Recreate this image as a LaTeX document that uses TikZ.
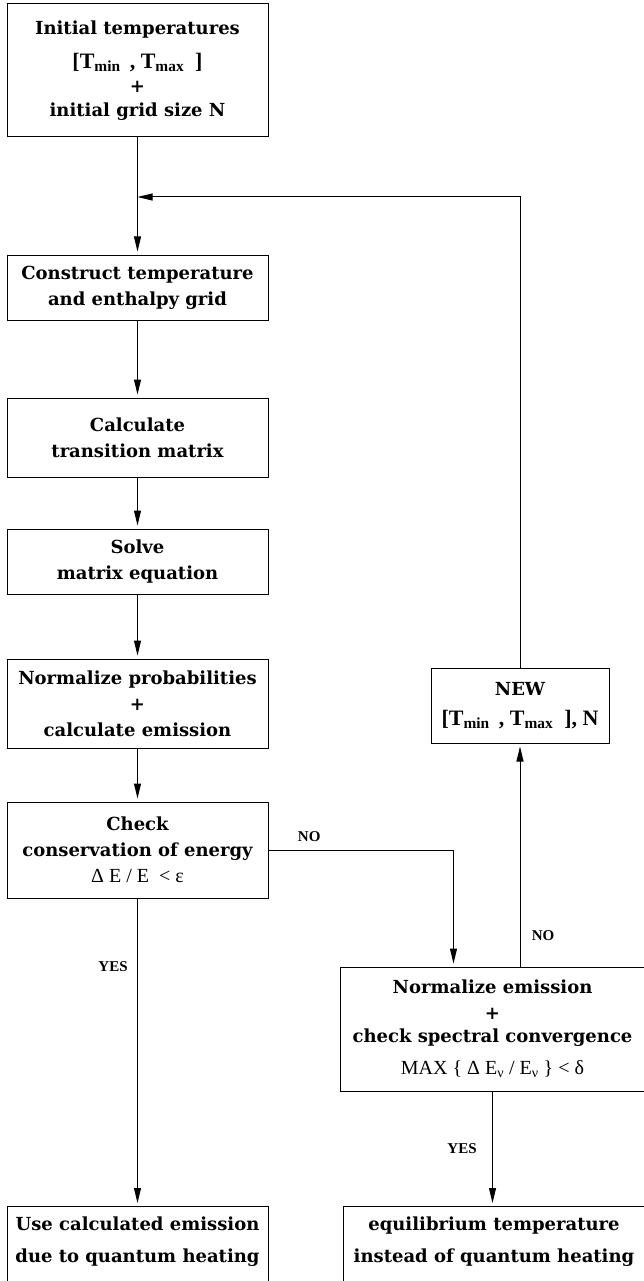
\documentclass[tikz,border=0pt]{standalone}
\usepackage{fontspec}
\newfontfamily\charfont{DejaVu Serif}
\newfontfamily\timesfont{Liberation Serif}
\usetikzlibrary{arrows.meta}

\newcommand{\tlarge}{\timesfont\fontsize{22}{26}\selectfont}
\newcommand{\tmath}{\timesfont\mdseries\fontsize{20}{26}\selectfont}

\begin{document}
\begin{tikzpicture}[x=1pt, y=-1pt,
          block/.style={draw, line width=1pt, align=center, inner sep=0pt,
            font=\charfont\bfseries\fontsize{18}{26}\selectfont},
          answer/.style={font=\timesfont\bfseries\fontsize{15}{17}\selectfont},
          arrow/.style={-{Triangle[length=15pt,width=7pt]}, line width=1pt, shorten >=3pt},
          flow/.style={line width=1pt}
        ]
          \useasboundingbox (0,0) rectangle (643,1281);

          % main column
          \node[block, minimum width=261pt, minimum height=133pt] (init) at (137.5,70.5)
            {Initial temperatures\\[8pt] {\tlarge [T\textsubscript{min}\, , T\textsubscript{max}\ \ ]}\\[-2pt] +\\[-2pt] initial grid size N};
          \node[block, minimum width=261pt, minimum height=65pt] (grid) at (137.5,287.5)
            {Construct temperature\\and enthalpy grid};
          \node[block, minimum width=261pt, minimum height=79pt] (matrix) at (137.5,437.5)
            {Calculate\\transition matrix};
          \node[block, minimum width=261pt, minimum height=65pt] (solve) at (137.5,561.5)
            {Solve\\matrix equation};
          \node[block, minimum width=261pt, minimum height=89pt] (prob) at (137.5,703.5)
            {Normalize probabilities\\+\\calculate emission};
          \node[block, minimum width=261pt, minimum height=96pt] (check) at (137.5,850)
            {Check\\conservation of energy\\{\tmath Δ E / E \ < ε}};

          % right column
          \node[block, minimum width=178pt, minimum height=75pt] (new) at (520,705.5)
            {NEW\\[4pt]{\tlarge [T\textsubscript{min}\, , T\textsubscript{max}\ \ ], N}};
          \node[block, minimum width=305pt, minimum height=124pt] (spectral) at (492.5,1029)
            {Normalize emission\\+\\[-3pt]check spectral convergence\\[6pt]{\tmath MAX \{ Δ E\textsubscript{ν} / E\textsubscript{ν}\ \} < δ}};

          % results
          \node[block, minimum width=261pt, anchor=north, inner ysep=10pt, text depth=60pt] (quantum) at (137.5,1206)
            {Use calculated emission\\[6pt]due to quantum heating};
          \node[block, minimum width=302pt, anchor=north, inner ysep=10pt, text depth=60pt] (equil) at (494,1206)
            {equilibrium temperature\\[6pt]instead of quantum heating};

          % loop back point
          \coordinate (join) at (137.5,197);

          % main flow
          \draw[arrow] (init) -- (grid);
          \draw[arrow] (grid) -- (matrix);
          \draw[arrow] (matrix) -- (solve);
          \draw[arrow] (solve) -- (prob);
          \draw[arrow] (prob) -- (check);
          \draw[arrow] (check) -- node[pos=0.22, left=6pt, answer] {YES} (quantum);

          % energy not conserved
          \draw[arrow] (check.east) -| node[pos=0.11, above=5pt, answer] {NO} ([xshift=-39pt]spectral.north);

          % spectral convergence
          \draw[arrow] (new.south |- spectral.north) -- node[pos=0.14, right=8pt, answer] {NO} (new.south);
          \draw[arrow] (spectral) -- node[pos=0.5, left=12pt, answer] {YES} (equil.north -| spectral.south);
          \draw[arrow, shorten >=0pt] (new.north) |- (join);
\end{tikzpicture}
\end{document}
